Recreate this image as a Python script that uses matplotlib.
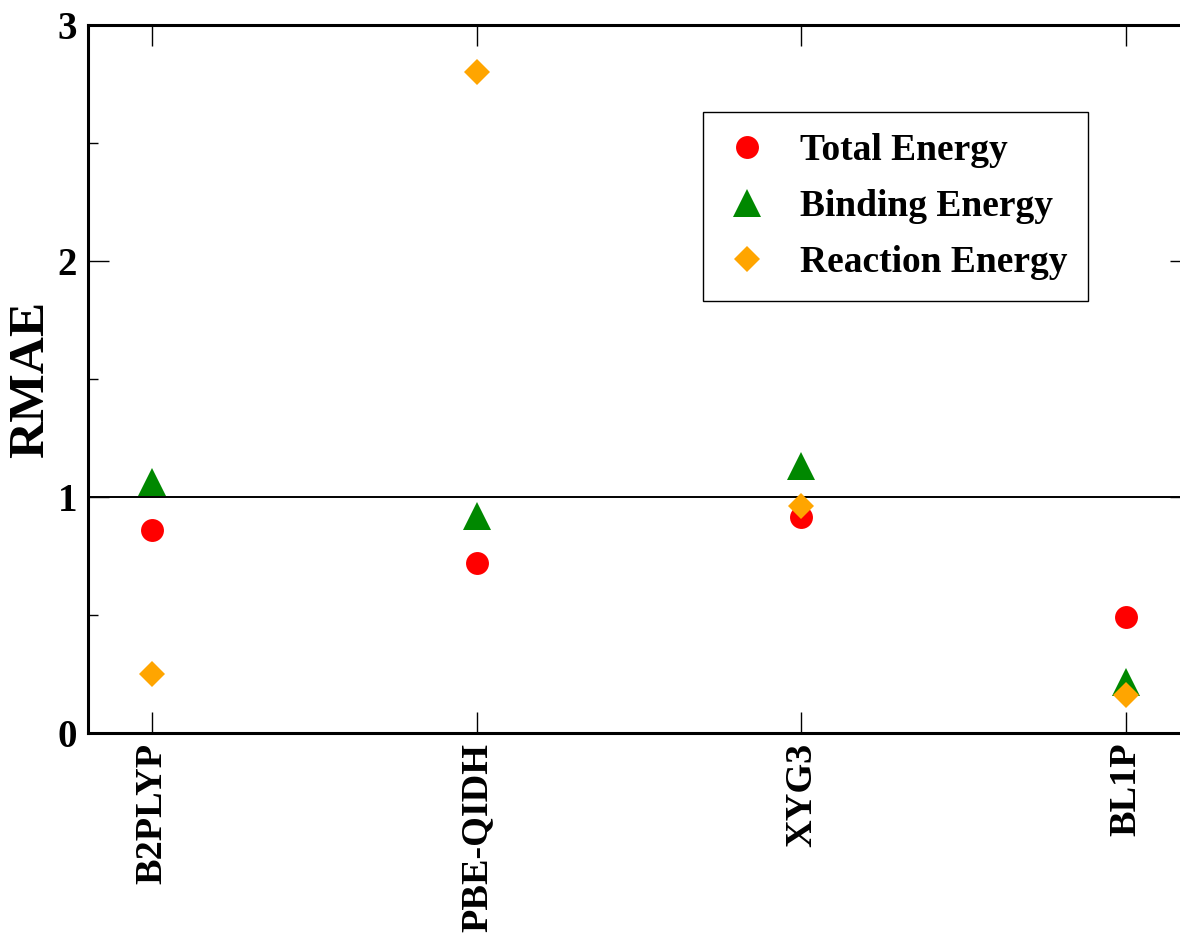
import matplotlib
matplotlib.use("Agg")
import matplotlib.pyplot as plt
from matplotlib.ticker import MultipleLocator

methods = ["B2PLYP", "PBE-QIDH", "XYG3", "BL1P"]
total_energy = [0.86, 0.72, 0.915, 0.49]
binding_energy = [1.065, 0.92, 1.13, 0.215]
reaction_energy = [0.25, 2.80, 0.96, 0.16]

plt.rcParams['font.family'] = ['Liberation Serif', 'DejaVu Serif']
plt.rcParams['font.weight'] = 'bold'

W, H = 1180, 935
fig = plt.figure(figsize=(W / 100, H / 100), dpi=100)
left, right, top, bottom = 88, 1191, 25, 733
ax = fig.add_axes([left / W, 1 - bottom / H, (right - left) / W, (bottom - top) / H])

x = list(range(len(methods)))
ax.axhline(1.0, color='black', lw=1.4, zorder=1)
ax.plot(x, total_energy, 'o', color='#ff0000', ms=16.5, mew=0, ls='none', label='Total Energy', zorder=3)
ax.plot(x, binding_energy, '^', color='#008800', ms=19.5, mew=0, ls='none', label='Binding Energy', zorder=3)
ax.plot(x, reaction_energy, 'D', color='#ffa500', ms=13.7, mew=0, ls='none', label='Reaction Energy', zorder=3)

ax.set_xlim(-0.197, 3.2)
ax.set_ylim(0, 3)
ax.set_xticks(x)
ax.set_xticklabels(methods, rotation=90, fontsize=27.5, fontweight='bold')
ax.set_yticks([0, 1, 2, 3])
ax.set_yticklabels(['0', '1', '2', '3'], fontsize=28, fontweight='bold')
ax.yaxis.set_minor_locator(MultipleLocator(0.5))
ax.tick_params(axis='both', which='major', direction='in', length=15, width=1.0,
               top=True, right=True)
ax.tick_params(axis='x', which='major', pad=7)
ax.tick_params(axis='y', which='major', pad=8)
ax.tick_params(axis='y', which='minor', direction='in', length=7.5, width=1.0, right=True)
for s in ax.spines.values():
    s.set_linewidth(2.2)

ax.set_ylabel('RMAE', fontsize=37, fontweight='bold')
ax.yaxis.set_label_coords((54 - left) / (right - left), 0.5)

leg = ax.legend(loc='upper left', bbox_to_anchor=(703 / W, 1 - 112 / H),
                bbox_transform=fig.transFigure, borderaxespad=0,
                frameon=True, fancybox=False, edgecolor='black',
                handlelength=1.25, handletextpad=0.79, borderpad=0.55, labelspacing=0.565,
                prop={'weight': 'bold', 'size': 27, 'family': 'Liberation Serif'})
leg.get_frame().set_linewidth(1.0)
leg.get_frame().set_alpha(1)

fig.savefig('out.png', dpi=100)
